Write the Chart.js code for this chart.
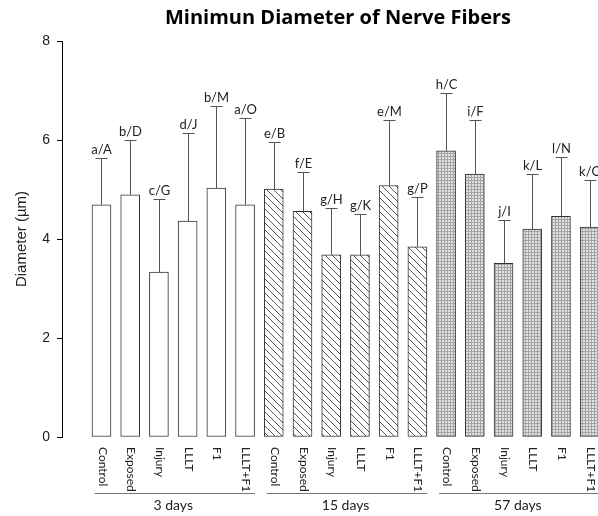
<!DOCTYPE html>
<html>
<head>
<meta charset="utf-8">
<script src="https://cdn.jsdelivr.net/npm/chart.js@4.4.1/dist/chart.umd.min.js"></script>
<style>
  html, body { margin: 0; padding: 0; background: #fff; }
  #wrap { width: 598px; height: 516px; }
</style>
</head>
<body>
<div id="wrap"><canvas id="chart"></canvas></div>
<script>
const groups = ['3 days', '15 days', '57 days'];
const treatments = ['Control', 'Exposed', 'Injury', 'LLLT', 'F1', 'LLLT+F1'];

const meanValues = [
  4.69, 4.89, 3.33, 4.36, 5.03, 4.69,
  5.01, 4.56, 3.68, 3.68, 5.08, 3.84,
  5.78, 5.31, 3.51, 4.20, 4.46, 4.24
];
const sdValues = [
  0.95, 1.12, 1.48, 1.78, 1.65, 1.75,
  0.94, 0.80, 0.95, 0.82, 1.32, 1.01,
  1.17, 1.09, 0.87, 1.11, 1.20, 0.95
];
const letterLabels = [
  'a/A', 'b/D', 'c/G', 'd/J', 'b/M', 'a/O',
  'e/B', 'f/E', 'g/H', 'g/K', 'e/M', 'g/P',
  'h/C', 'i/F', 'j/I', 'k/L', 'l/N', 'k/O'
];
const yTicks = [0, 2, 4, 6, 8];

const categories = [];
groups.forEach(() => treatments.forEach(t => categories.push(t)));

function makeHatch() {
  const c = document.createElement('canvas');
  c.width = 7; c.height = 7;
  const g = c.getContext('2d');
  g.fillStyle = '#fff';
  g.fillRect(0, 0, 7, 7);
  g.strokeStyle = '#555';
  g.lineWidth = 1;
  g.beginPath();
  g.moveTo(-1, -1); g.lineTo(8, 8);
  g.moveTo(-1, 6); g.lineTo(1, 8);
  g.moveTo(6, -1); g.lineTo(8, 1);
  g.stroke();
  return g.createPattern(c, 'repeat');
}

function makeStipple() {
  const c = document.createElement('canvas');
  c.width = 3; c.height = 3;
  const g = c.getContext('2d');
  g.fillStyle = '#e2e2e2';
  g.fillRect(0, 0, 3, 3);
  g.fillStyle = '#a4a4a4';
  g.fillRect(0, 0, 3, 1);
  g.fillRect(0, 0, 1, 3);
  return g.createPattern(c, 'repeat');
}

const hatch = makeHatch();
const stipple = makeStipple();
const fills = categories.map((_, i) => i < 6 ? '#ffffff' : (i < 12 ? hatch : stipple));

const labelFont = '"Lato", "Open Sans", sans-serif';

const extrasPlugin = {
  id: 'extras',
  afterDatasetsDraw(chart) {
    const ctx = chart.ctx;
    const x = chart.scales.x;
    const y = chart.scales.y;

    // error whiskers and letters
    ctx.save();
    ctx.strokeStyle = '#555';
    ctx.lineWidth = 1;
    ctx.fillStyle = '#222';
    ctx.font = '13px ' + labelFont;
    ctx.textAlign = 'center';
    ctx.textBaseline = 'bottom';
    meanValues.forEach((v, i) => {
      const px = Math.round(x.getPixelForValue(i)) + 0.5;
      const top = y.getPixelForValue(v);
      const err = Math.round(y.getPixelForValue(v + sdValues[i])) + 0.5;
      ctx.beginPath();
      ctx.moveTo(px, top);
      ctx.lineTo(px, err);
      ctx.moveTo(px - 6, err);
      ctx.lineTo(px + 6, err);
      ctx.stroke();
      ctx.fillText(letterLabels[i], px, err - 2);
    });
    ctx.restore();
  },
  afterDraw(chart) {
    const ctx = chart.ctx;
    const x = chart.scales.x;
    const base = chart.chartArea.bottom;

    ctx.save();
    // title
    ctx.fillStyle = '#000';
    ctx.font = 'bold 20px "Open Sans", sans-serif';
    ctx.textAlign = 'center';
    ctx.textBaseline = 'middle';
    ctx.fillText('Minimun Diameter of Nerve Fibers', 338, 18);

    // treatment labels, reading downwards
    ctx.font = '12px ' + labelFont;
    ctx.fillStyle = '#222';
    ctx.textAlign = 'left';
    ctx.textBaseline = 'middle';
    categories.forEach((c, i) => {
      const px = x.getPixelForValue(i) + 1;
      ctx.save();
      ctx.translate(px, base + 10);
      ctx.rotate(Math.PI / 2);
      ctx.fillText(c, 0, 0);
      ctx.restore();
    });

    // group lines and names
    ctx.strokeStyle = '#777';
    ctx.lineWidth = 1;
    ctx.font = '14px ' + labelFont;
    ctx.textAlign = 'center';
    groups.forEach((g, k) => {
      const a = x.getPixelForValue(k * 6) - 7;
      const b = x.getPixelForValue(k * 6 + 5) + 10;
      ctx.beginPath();
      ctx.moveTo(a, base + 56.5);
      ctx.lineTo(b, base + 56.5);
      ctx.stroke();
      ctx.fillText(g, (x.getPixelForValue(k * 6) + x.getPixelForValue(k * 6 + 5)) / 2, base + 68);
    });
    ctx.restore();
  }
};

new Chart(document.getElementById('chart'), {
  type: 'bar',
  data: {
    datasets: [{
      data: meanValues.map((v, i) => ({ x: i, y: v })),
      backgroundColor: fills,
      borderColor: '#333',
      borderWidth: 1,
      borderSkipped: false,
      barThickness: 19
    }]
  },
  options: {
    responsive: true,
    maintainAspectRatio: false,
    animation: false,
    layout: { padding: { top: 41, right: 0, bottom: 79, left: 0 } },
    plugins: {
      legend: { display: false },
      tooltip: { enabled: false },
      title: { display: false }
    },
    scales: {
      x: {
        type: 'linear',
        display: false,
        offset: false,
        min: -1.375,
        max: 17.29,
        grid: { display: false }
      },
      y: {
        min: 0,
        max: 8,
        afterFit: s => { s.width = 62; },
        afterBuildTicks: s => { s.ticks = yTicks.map(v => ({ value: v })); },
        ticks: {
          color: '#222',
          padding: 7,
          font: { family: '"Liberation Sans", Arial, sans-serif', size: 14 }
        },
        grid: { display: true, drawOnChartArea: false, drawTicks: true, tickLength: 5, color: '#000' },
        border: { display: true, color: '#000' },
        title: {
          display: true,
          text: 'Diameter (µm)',
          color: '#222',
          font: { family: '"Liberation Sans", Arial, sans-serif', size: 15 },
          padding: { top: 13, bottom: 0 }
        }
      }
    }
  },
  plugins: [extrasPlugin]
});
</script>
</body>
</html>
